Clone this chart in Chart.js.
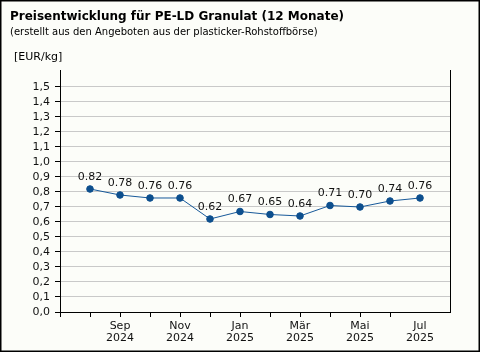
<!DOCTYPE html>
<html>
<head>
<meta charset="utf-8">
<script src="https://cdn.jsdelivr.net/npm/chart.js@4"></script>
<style>
  html, body { margin: 0; padding: 0; background: #fcfdf9; }
  canvas { display: block; }
</style>
</head>
<body>
<canvas id="chart" width="480" height="352"></canvas>
<script>
// ---------- DATEN ----------
const months = ['Aug', 'Sep', 'Okt', 'Nov', 'Dez', 'Jan', 'Feb', 'Mär', 'Apr', 'Mai', 'Jun', 'Jul'];
const years = ['2024', '2024', '2024', '2024', '2024', '2025', '2025', '2025', '2025', '2025', '2025', '2025'];
const prices = [0.82, 0.78, 0.76, 0.76, 0.62, 0.67, 0.65, 0.64, 0.71, 0.70, 0.74, 0.76];
const yTicks = [0, 0.1, 0.2, 0.3, 0.4, 0.5, 0.6, 0.7, 0.8, 0.9, 1.0, 1.1, 1.2, 1.3, 1.4, 1.5];

const titleText = 'Preisentwicklung für PE-LD Granulat (12 Monate)';
const subtitleText = '(erstellt aus den Angeboten aus der plasticker-Rohstoffbörse)';
const unitText = '[EUR/kg]';

// ein leerer Platz links und rechts
const slots = [''].concat(months.map((m, i) => m + ' ' + years[i]), ['']);
const values = [null].concat(prices, [null]);

const FONT = '"DejaVu Sans", Verdana, sans-serif';
const LINE = '#17599a';

// ---------- PLUGIN: Hintergrund, Texte, Rahmen ----------
const decor = {
    id: 'decor',
    beforeDraw(chart) {
        const c = chart.ctx;
        c.save();
        c.fillStyle = '#fcfdf9';
        c.fillRect(0, 0, chart.width, chart.height);
        c.restore();
    },
    afterDatasetsDraw(chart) {
        const c = chart.ctx;
        const meta = chart.getDatasetMeta(0);
        c.save();
        c.fillStyle = '#111';
        c.font = '11px ' + FONT;
        c.textAlign = 'center';
        c.textBaseline = 'middle';
        meta.data.forEach((pt, i) => {
            const v = values[i];
            if (v === null) return;
            c.fillText(v.toFixed(2), pt.x, pt.y - 12);
        });
        c.restore();
    },
    afterDraw(chart) {
        const c = chart.ctx;
        const a = chart.chartArea;
        c.save();
        c.fillStyle = '#000';
        c.textAlign = 'left';
        c.textBaseline = 'alphabetic';
        c.font = 'bold 12px ' + FONT;
        c.fillText(titleText, 10, 20);
        c.font = '10px ' + FONT;
        c.fillText(subtitleText, 10, 35);
        c.font = '11px ' + FONT;
        c.fillText(unitText, 14, 60);

        // rechte Linie
        c.strokeStyle = '#000';
        c.lineWidth = 1;
        c.beginPath();
        c.moveTo(Math.round(a.right) + 0.5, a.top);
        c.lineTo(Math.round(a.right) + 0.5, a.bottom + 0.5);
        c.stroke();

        // äußerer Rahmen
        c.lineWidth = 1.5;
        c.strokeRect(0.75, 0.75, chart.width - 1.5, chart.height - 1.5);
        c.restore();
    }
};

// ---------- DIAGRAMM ----------
const ctx = document.getElementById('chart');
const chart = new Chart(ctx, {
    type: 'line',
    data: {
        labels: slots,
        datasets: [{
            data: values,
            borderColor: LINE,
            borderWidth: 1,
            backgroundColor: LINE,
            pointBackgroundColor: '#0d4f8e',
            pointBorderColor: '#0d4f8e',
            pointStyle: 'circle',
            pointRadius: 3.3,
            pointBorderWidth: 1,
            spanGaps: false,
            tension: 0
        }]
    },
    options: {
        responsive: false,
        animation: false,
        devicePixelRatio: 1,
        layout: { padding: { top: 70, right: 30, left: 0, bottom: 0 } },
        plugins: {
            legend: { display: false },
            tooltip: { enabled: false }
        },
        scales: {
            x: {
                type: 'category',
                offset: false,
                afterFit(scale) { scale.height = 40; },
                border: { display: true, color: '#000', width: 1 },
                grid: {
                    drawOnChartArea: false,
                    drawTicks: true,
                    tickLength: 5,
                    color: c => (c.index <= 11 ? '#000' : 'rgba(0,0,0,0)'),
                    tickColor: c => (c.index <= 11 ? '#000' : 'rgba(0,0,0,0)')
                },
                ticks: {
                    autoSkip: false,
                    maxRotation: 0,
                    minRotation: 0,
                    padding: 3,
                    color: '#111',
                    font: { family: FONT, size: 11, lineHeight: 1.1 },
                    callback(val, i) {
                        if (i < 1 || i > 12 || i % 2 !== 0) return '';
                        return [months[i - 1], years[i - 1]];
                    }
                }
            },
            y: {
                min: 0,
                max: 1.6133,
                afterFit(scale) { scale.width = 60; },
                afterBuildTicks(scale) {
                    scale.ticks = yTicks.map(v => ({ value: v }));
                },
                border: { display: true, color: '#000', width: 1 },
                grid: {
                    color: '#c9c9c9',
                    tickColor: '#000',
                    tickLength: 5,
                    lineWidth: 1
                },
                ticks: {
                    autoSkip: false,
                    padding: 5,
                    color: '#111',
                    font: { family: FONT, size: 11 },
                    callback: v => v.toFixed(1).replace('.', ',')
                }
            }
        }
    },
    plugins: [decor]
});
</script>
</body>
</html>
